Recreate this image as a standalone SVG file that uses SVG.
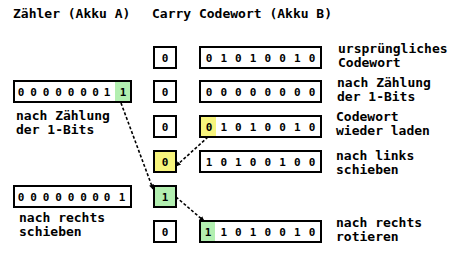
<svg xmlns="http://www.w3.org/2000/svg" width="459" height="253" viewBox="0 0 459 253">
<defs>
<style>
.t{font-family:"DejaVu Sans Mono","Liberation Mono",monospace;font-weight:bold;font-size:13px;fill:#000}
.d{font-family:"DejaVu Sans Mono","Liberation Mono",monospace;font-weight:bold;font-size:11px;fill:#000;text-anchor:middle}
.box{fill:#fff;stroke:#000;stroke-width:2}
.g{fill:#b2efb0}
.y{fill:#f7f47c}
.c{fill:none;stroke:#000;stroke-width:1.6;stroke-dasharray:3 2}
</style>
<marker id="ah" viewBox="0 0 10 10" refX="9" refY="5" markerWidth="5" markerHeight="5" orient="auto" markerUnits="userSpaceOnUse">
<path d="M0,0 L10,5 L0,10 z" fill="#000"/>
</marker>
</defs>
<rect width="459" height="253" fill="#fff"/>
<text class="t" x="13" y="18">Zähler (Akku A)</text>
<text class="t" x="152" y="18">Carry Codewort (Akku B)</text>

<g id="zaehler1">
<rect class="box" x="14" y="81" width="117" height="21"/>
<rect class="g" x="115" y="82" width="15" height="19"/>
<text class="d" y="95.5"><tspan x="21">0</tspan><tspan x="33.5">0</tspan><tspan x="46">0</tspan><tspan x="58.5">0</tspan><tspan x="71">0</tspan><tspan x="83.5">0</tspan><tspan x="95.5">0</tspan><tspan x="107">1</tspan><tspan x="123">1</tspan></text>
</g>
<g id="zaehler2">
<rect class="box" x="14" y="186" width="117" height="21"/>
<text class="d" y="200.5"><tspan x="21">0</tspan><tspan x="33.5">0</tspan><tspan x="46">0</tspan><tspan x="58.5">0</tspan><tspan x="71">0</tspan><tspan x="83.5">0</tspan><tspan x="95.5">0</tspan><tspan x="107">0</tspan><tspan x="122">1</tspan></text>
</g>
<text class="t" x="16" y="120">nach Zählung</text>
<text class="t" x="16" y="134">der 1-Bits</text>
<text class="t" x="19" y="222">nach rechts</text>
<text class="t" x="19" y="236">schieben</text>

<g id="carry1"><rect class="box" x="154" y="47" width="22" height="21"/><text class="d" x="165" y="61.5">0</text></g>
<g id="carry2"><rect class="box" x="154" y="81" width="22" height="21"/><text class="d" x="165" y="95.5">0</text></g>
<g id="carry3"><rect class="box" x="154" y="116" width="22" height="21"/><text class="d" x="165" y="130.5">0</text></g>
<g id="carry4"><rect class="box" x="154" y="151" width="22" height="21"/><rect class="y" x="155" y="152" width="20" height="19"/><text class="d" x="165" y="165.5">0</text></g>
<g id="carry5"><rect class="box" x="154" y="186" width="22" height="21"/><rect class="g" x="155" y="187" width="20" height="19"/><text class="d" x="165" y="200.5">1</text></g>
<g id="carry6"><rect class="box" x="154" y="221" width="22" height="21"/><text class="d" x="165" y="235.5">0</text></g>

<g id="code1"><rect class="box" x="200" y="47" width="121" height="21"/>
<text class="d" y="61.5"><tspan x="209">0</tspan><tspan x="223.7">1</tspan><tspan x="238.4">0</tspan><tspan x="253.1">1</tspan><tspan x="267.8">0</tspan><tspan x="282.5">0</tspan><tspan x="297.2">1</tspan><tspan x="312">0</tspan></text></g>
<g id="code2"><rect class="box" x="200" y="81" width="121" height="21"/>
<text class="d" y="95.5"><tspan x="209">0</tspan><tspan x="223.7">0</tspan><tspan x="238.4">0</tspan><tspan x="253.1">0</tspan><tspan x="267.8">0</tspan><tspan x="282.5">0</tspan><tspan x="297.2">0</tspan><tspan x="312">0</tspan></text></g>
<g id="code3"><rect class="box" x="200" y="116" width="121" height="21"/><rect class="y" x="201" y="117" width="15" height="19"/>
<text class="d" y="130.5"><tspan x="209">0</tspan><tspan x="223.7">1</tspan><tspan x="238.4">0</tspan><tspan x="253.1">1</tspan><tspan x="267.8">0</tspan><tspan x="282.5">0</tspan><tspan x="297.2">1</tspan><tspan x="312">0</tspan></text></g>
<g id="code4"><rect class="box" x="200" y="151" width="121" height="21"/>
<text class="d" y="165.5"><tspan x="209">1</tspan><tspan x="223.7">0</tspan><tspan x="238.4">1</tspan><tspan x="253.1">0</tspan><tspan x="267.8">0</tspan><tspan x="282.5">1</tspan><tspan x="297.2">0</tspan><tspan x="312">0</tspan></text></g>
<g id="code6"><rect class="box" x="200" y="221" width="121" height="21"/><rect class="g" x="201" y="222" width="14" height="19"/>
<text class="d" y="235.5"><tspan x="208">1</tspan><tspan x="223.7">1</tspan><tspan x="238.4">0</tspan><tspan x="253.1">1</tspan><tspan x="267.8">0</tspan><tspan x="282.5">0</tspan><tspan x="297.2">1</tspan><tspan x="312">0</tspan></text></g>

<text class="t" x="338" y="53">ursprüngliches</text>
<text class="t" x="338" y="67">Codewort</text>
<text class="t" x="337" y="87">nach Zählung</text>
<text class="t" x="337" y="101">der 1-Bits</text>
<text class="t" x="336" y="121">Codewort</text>
<text class="t" x="336" y="135">wieder laden</text>
<text class="t" x="336" y="160">nach links</text>
<text class="t" x="336" y="174">schieben</text>
<text class="t" x="336" y="227">nach rechts</text>
<text class="t" x="336" y="241">rotieren</text>

<g id="connectors">
<line class="c" x1="121" y1="103" x2="153" y2="189" marker-end="url(#ah)"/>
<line class="c" x1="208" y1="137" x2="176" y2="166" marker-end="url(#ah)"/>
<line class="c" x1="176" y1="197" x2="204" y2="221" marker-end="url(#ah)"/>
</g>
</svg>
